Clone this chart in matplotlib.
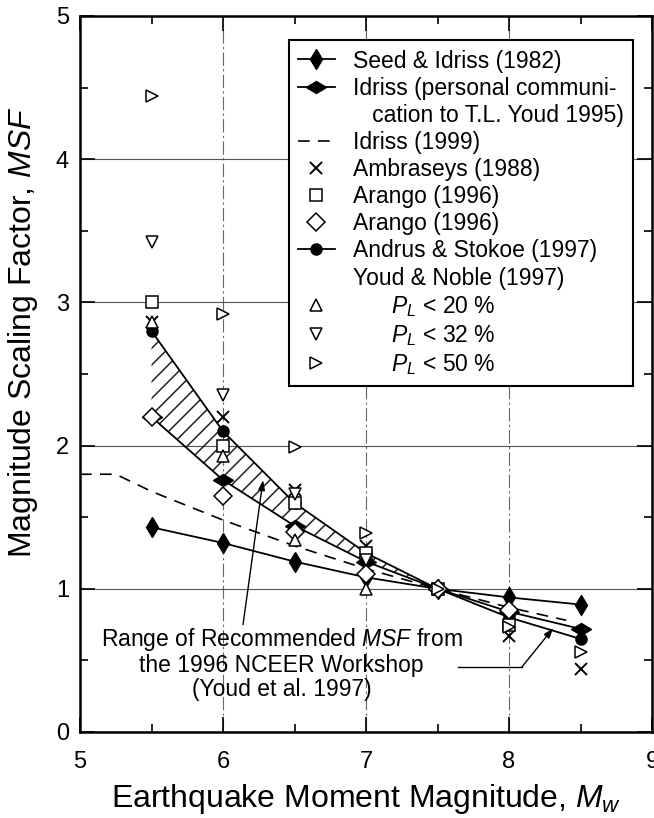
import numpy as np
import matplotlib
matplotlib.use("Agg")
import matplotlib.pyplot as plt
from matplotlib.lines import Line2D
from matplotlib.markers import MarkerStyle
from matplotlib.transforms import Affine2D

plt.rcParams['font.family'] = ['Liberation Sans', 'DejaVu Sans']
plt.rcParams['mathtext.fontset'] = 'custom'
plt.rcParams['mathtext.rm'] = 'Liberation Sans'
plt.rcParams['mathtext.it'] = 'Liberation Sans:italic'
plt.rcParams['hatch.linewidth'] = 1.1

# magnitude scaling factors vs. moment magnitude
mw = [5.5, 6.0, 6.5, 7.0, 7.5, 8.0, 8.5]
seed_idriss_1982 = [1.43, 1.32, 1.19, 1.08, 1.00, 0.94, 0.89]
idriss_1995 = [2.20, 1.76, 1.44, 1.19, 1.00, 0.84, 0.72]
ambraseys_1988 = [2.86, 2.20, 1.69, 1.30, 1.00, 0.67, 0.44]
andrus_stokoe_1997 = [2.80, 2.10, 1.60, 1.25, 1.00, 0.80, 0.65]

arango_mw = [5.5, 6.0, 6.5, 7.0, 7.5, 8.0]
arango_distance = [3.00, 2.00, 1.60, 1.25, 1.00, 0.75]
arango_energy = [2.20, 1.65, 1.40, 1.10, 1.00, 0.85]

youd_mw = [5.5, 6.0, 6.5, 7.0]
youd_pl20 = [2.86, 1.93, 1.34, 1.00]
youd_pl32 = [3.42, 2.35, 1.66, 1.20]
youd_pl50 = [4.44, 2.92, 1.99, 1.39, 1.00, 0.73, 0.56]

idriss_1999_mw = [5.0, 5.25, 5.5, 6.0, 6.5, 7.0, 7.5, 8.0, 8.4]
idriss_1999 = [1.80, 1.80, 1.68, 1.48, 1.30, 1.14, 1.00, 0.87, 0.78]

# NCEER recommended band spans Idriss (lower) to Andrus & Stokoe (upper)
band_mw = mw[:5]
band_low = idriss_1995[:5]
band_high = andrus_stokoe_1997[:5]

fig = plt.figure(figsize=(6.54, 8.18), dpi=100)
ax = fig.add_axes([80/654, 1 - 732/818, 572/654, 716/818])

ax.fill_between(band_mw, band_low, band_high, facecolor='none',
                edgecolor='#222222', hatch='//', linewidth=0, zorder=1)

wide_diamond = MarkerStyle('d', transform=Affine2D().rotate_deg(90))

l_seed, = ax.plot(mw, seed_idriss_1982, '-', color='k', lw=1.3,
                  marker='d', ms=10, mfc='k', zorder=4)
l_idriss, = ax.plot(mw, idriss_1995, '-', color='k', lw=1.3,
                    marker=wide_diamond, ms=10, mfc='k', zorder=4)
l_idr99, = ax.plot(idriss_1999_mw, idriss_1999, color='k', lw=1.2,
                   dashes=(7, 5), zorder=3)
l_amb, = ax.plot(mw, ambraseys_1988, 'x', color='k', ms=8, mew=1.4, zorder=5)
l_ar1, = ax.plot(arango_mw, arango_distance, 's', color='k', ms=9,
                 mfc='white', mew=1.1, zorder=5)
l_ar2, = ax.plot(arango_mw, arango_energy, 'D', color='k', ms=9,
                 mfc='white', mew=1.1, zorder=5)
l_as, = ax.plot(mw, andrus_stokoe_1997, '-', color='k', lw=1.3,
                marker='o', ms=8, mfc='k', zorder=4)
l_p20, = ax.plot(youd_mw, youd_pl20, '^', color='k', ms=9, mfc='white',
                 mew=1.1, zorder=5)
l_p32, = ax.plot(youd_mw, youd_pl32, 'v', color='k', ms=9, mfc='white',
                 mew=1.1, zorder=5)
l_p50, = ax.plot(mw, youd_pl50, '>', color='k', ms=9, mfc='white',
                 mew=1.1, zorder=5)

blank = Line2D([], [], ls='none', marker='')
handles = [l_seed, l_idriss, blank, l_idr99, l_amb, l_ar1, l_ar2, l_as,
           blank, l_p20, l_p32, l_p50]
labels = ['Seed & Idriss (1982)',
          'Idriss (personal communi-',
          '   cation to T.L. Youd 1995)',
          'Idriss (1999)',
          'Ambraseys (1988)',
          'Arango (1996)',
          'Arango (1996)',
          'Andrus & Stokoe (1997)',
          'Youd & Noble (1997)',
          '      $P_L$ < 20 %',
          '      $P_L$ < 32 %',
          '      $P_L$ < 50 %']
leg = ax.legend(handles, labels, loc='upper right',
                bbox_to_anchor=(0.967, 0.966), borderaxespad=0,
                fontsize=16.5, frameon=True, fancybox=False, framealpha=1,
                edgecolor='k', borderpad=0.4, handlelength=1.6,
                handletextpad=0.8, labelspacing=0.18)
leg.get_frame().set_linewidth(1.5)
leg.set_zorder(6)

# annotation pointing at the recommended band
ax.text(6.41, 0.48, 'Range of Recommended $MSF$ from\nthe 1996 NCEER Workshop\n(Youd et al. 1997)',
        ha='center', va='center', fontsize=16.5, linespacing=1.05, zorder=6)
arrow = dict(arrowstyle='-|>,head_length=0.6,head_width=0.2', color='k',
             lw=1.0, shrinkA=0, shrinkB=0)
ax.annotate('', xy=(6.28, 1.76), xytext=(6.14, 0.75), arrowprops=arrow)
ax.plot([7.64, 8.09], [0.454, 0.454], color='k', lw=1.0)
ax.annotate('', xy=(8.31, 0.726), xytext=(8.09, 0.454), arrowprops=arrow)

ax.set_xlim(5, 9)
ax.set_ylim(0, 5)
ax.set_xticks([5, 6, 7, 8, 9])
ax.set_yticks([0, 1, 2, 3, 4, 5])
ax.set_xticks(np.arange(5.5, 9, 1.0), minor=True)
ax.set_yticks(np.arange(0.5, 5, 1.0), minor=True)
ax.tick_params(which='both', direction='in', top=True, right=True,
               labelsize=17, width=1.2)
ax.tick_params(which='major', length=11)
ax.tick_params(which='minor', length=6)
ax.tick_params(axis='x', pad=14)
ax.tick_params(axis='y', pad=8)
ax.yaxis.grid(True, color='#555555', lw=0.8)
ax.xaxis.grid(True, color='#666666', lw=0.8, dashes=(12, 3, 2, 3))
ax.set_axisbelow(True)
for s in ax.spines.values():
    s.set_linewidth(1.8)

ax.set_xlabel('Earthquake Moment Magnitude, $M_w$', fontsize=23)
ax.set_ylabel('Magnitude Scaling Factor, $MSF$', fontsize=23)
ax.xaxis.set_label_coords(0.5, -0.07)
ax.yaxis.set_label_coords(-0.07, 0.559)

fig.savefig('out.png', dpi=100)
